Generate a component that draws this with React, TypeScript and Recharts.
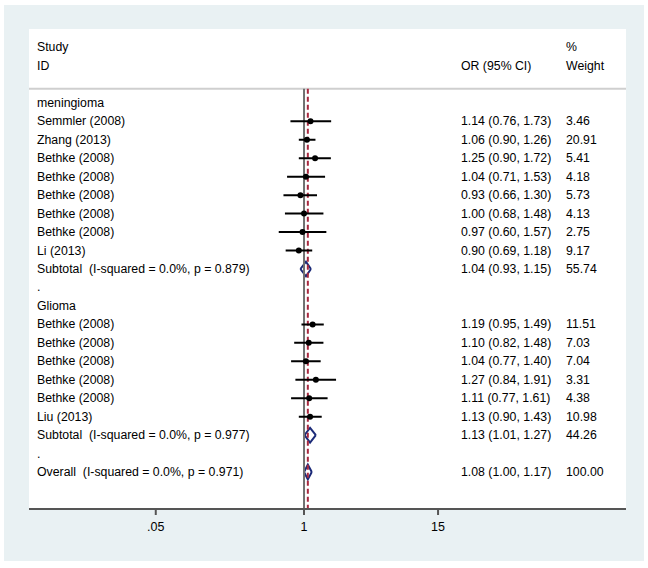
import React from 'react';
import { ComposedChart, XAxis, YAxis, Line, Area, Scatter, ReferenceLine } from 'recharts';

// ---------- data ----------
const meningiomaStudies = ['Semmler (2008)', 'Zhang (2013)', 'Bethke (2008)', 'Bethke (2008)', 'Bethke (2008)', 'Bethke (2008)', 'Bethke (2008)', 'Li (2013)'];
const meningiomaOR = [1.14, 1.06, 1.25, 1.04, 0.93, 1.0, 0.97, 0.9];
const meningiomaLo = [0.76, 0.9, 0.9, 0.71, 0.66, 0.68, 0.6, 0.69];
const meningiomaHi = [1.73, 1.26, 1.72, 1.53, 1.3, 1.48, 1.57, 1.18];
const meningiomaWeight = [3.46, 20.91, 5.41, 4.18, 5.73, 4.13, 2.75, 9.17];

const gliomaStudies = ['Bethke (2008)', 'Bethke (2008)', 'Bethke (2008)', 'Bethke (2008)', 'Bethke (2008)', 'Liu (2013)'];
const gliomaOR = [1.19, 1.1, 1.04, 1.27, 1.11, 1.13];
const gliomaLo = [0.95, 0.82, 0.77, 0.84, 0.77, 0.9];
const gliomaHi = [1.49, 1.48, 1.4, 1.91, 1.61, 1.43];
const gliomaWeight = [11.51, 7.03, 7.04, 3.31, 4.38, 10.98];

const pooledLabels = ['Subtotal  (I-squared = 0.0%, p = 0.879)', 'Subtotal  (I-squared = 0.0%, p = 0.977)', 'Overall  (I-squared = 0.0%, p = 0.971)'];
const pooledOR = [1.04, 1.13, 1.08];
const pooledLo = [0.93, 1.01, 1.0];
const pooledHi = [1.15, 1.27, 1.17];
const pooledWeight = [55.74, 44.26, 100.0];

const groupNames = ['meningioma', 'Glioma'];
const headerLeft = ['Study', 'ID'];
const headerMid = ['', 'OR (95% CI)'];
const headerRight = ['%', 'Weight'];

const xTicks = [0.05, 1, 15];
const xTickLabels = ['.05', '1', '15'];
const nullValue = 1;

// ---------- table building ----------
type Row = { x: number; y: number; label: string; est?: string; wt?: string };
const fmt = (v: number) => v.toFixed(2);
const estText = (o: number, l: number, h: number) => `${fmt(o)} (${fmt(l)}, ${fmt(h)})`;

const rows: Row[] = [];
const studyPoints: { x: number; y: number }[] = [];
const ciPoints: { x: number; y: number | null }[] = [];
const diamonds: { x: number; y: [number, number] }[][] = [];
const DH = 0.4;

headerLeft.forEach((h, i) => rows.push({ x: nullValue, y: -3 + i, label: h, est: headerMid[i], wt: headerRight[i] }));

let r = 0;
const groups = [
  { studies: meningiomaStudies, or: meningiomaOR, lo: meningiomaLo, hi: meningiomaHi, w: meningiomaWeight },
  { studies: gliomaStudies, or: gliomaOR, lo: gliomaLo, hi: gliomaHi, w: gliomaWeight },
];
const addPooled = (k: number) => {
  rows.push({ x: nullValue, y: r, label: pooledLabels[k], est: estText(pooledOR[k], pooledLo[k], pooledHi[k]), wt: fmt(pooledWeight[k]) });
  diamonds.push([
    { x: pooledLo[k], y: [r, r] },
    { x: pooledOR[k], y: [r - DH, r + DH] },
    { x: pooledHi[k], y: [r, r] },
  ]);
  r++;
};
groups.forEach((g, gi) => {
  rows.push({ x: nullValue, y: r++, label: groupNames[gi] });
  g.studies.forEach((s, i) => {
    rows.push({ x: nullValue, y: r, label: s, est: estText(g.or[i], g.lo[i], g.hi[i]), wt: fmt(g.w[i]) });
    studyPoints.push({ x: g.or[i], y: r });
    ciPoints.push({ x: g.lo[i], y: r }, { x: g.hi[i], y: r }, { x: g.hi[i], y: null });
    r++;
  });
  addPooled(gi);
  rows.push({ x: nullValue, y: r++, label: '.' });
});
addPooled(2);

const FONT = 'Arial, "Liberation Sans", sans-serif';

const RowText = (props: any) => {
  const { cy, payload } = props;
  if (!payload || cy == null) return null;
  const common = { y: cy, fontSize: 12.3, fontFamily: FONT, fill: '#000', dominantBaseline: 'central' as const, style: { whiteSpace: 'pre' as const } };
  return (
    <g>
      <text x={37} {...common}>{payload.label}</text>
      {payload.est ? <text x={461} {...common}>{payload.est}</text> : null}
      {payload.wt ? <text x={566} {...common}>{payload.wt}</text> : null}
    </g>
  );
};

const Dot = (props: any) => {
  const { cx, cy } = props;
  return <circle cx={cx} cy={cy} r={3} fill="#000" />;
};

export default function App() {
  return (
    <div style={{ position: 'absolute', left: 0, top: 0, width: 648, height: 568, background: '#fff' }}>
      <div style={{ position: 'absolute', left: 4, top: 5, width: 640, height: 556, background: '#e9f1f3' }} />
      <div style={{ position: 'absolute', left: 29, top: 29, width: 597, height: 480, background: '#fff' }} />
      <div style={{ position: 'absolute', left: 0, top: 0 }}>
        <ComposedChart width={648} height={568} margin={{ top: 29, right: 22, bottom: 29, left: 29 }}>
          <XAxis
            dataKey="x"
            type="number"
            scale="log"
            domain={[0.00386, 669]}
            allowDataOverflow
            ticks={xTicks}
            interval={0}
            tickFormatter={(v: number) => xTickLabels[xTicks.indexOf(v)] ?? String(v)}
            height={30}
            axisLine={{ stroke: '#555', strokeWidth: 2 }}
            tickLine={{ stroke: '#555', strokeWidth: 2 }}
            tickSize={6}
            tickMargin={7}
            tick={{ fontSize: 12.5, fontFamily: FONT, fill: '#000' }}
          />
          <YAxis dataKey="y" type="number" domain={[-4, 22]} reversed allowDataOverflow hide width={0} />
          <ReferenceLine y={-0.76} stroke="#cfcfcf" strokeWidth={2} />
          <ReferenceLine segment={[{ x: nullValue, y: -0.76 }, { x: nullValue, y: 22 }]} stroke="#707070" strokeWidth={2} />
          <ReferenceLine segment={[{ x: pooledOR[2], y: -0.76 }, { x: pooledOR[2], y: 22 }]} stroke="#a8283f" strokeWidth={2} strokeDasharray="5 3" />
          <Line data={ciPoints} dataKey="y" stroke="#000" strokeWidth={2} dot={false} activeDot={false} connectNulls={false} isAnimationActive={false} />
          <Scatter data={studyPoints} shape={<Dot />} isAnimationActive={false} />
          {diamonds.map((d, i) => (
            <Area key={i} data={d} dataKey="y" type="linear" stroke="#1b2a78" strokeWidth={2} fill="#fff" fillOpacity={1} dot={false} activeDot={false} isAnimationActive={false} />
          ))}
          <Scatter data={rows} shape={<RowText />} isAnimationActive={false} />
        </ComposedChart>
      </div>
    </div>
  );
}
